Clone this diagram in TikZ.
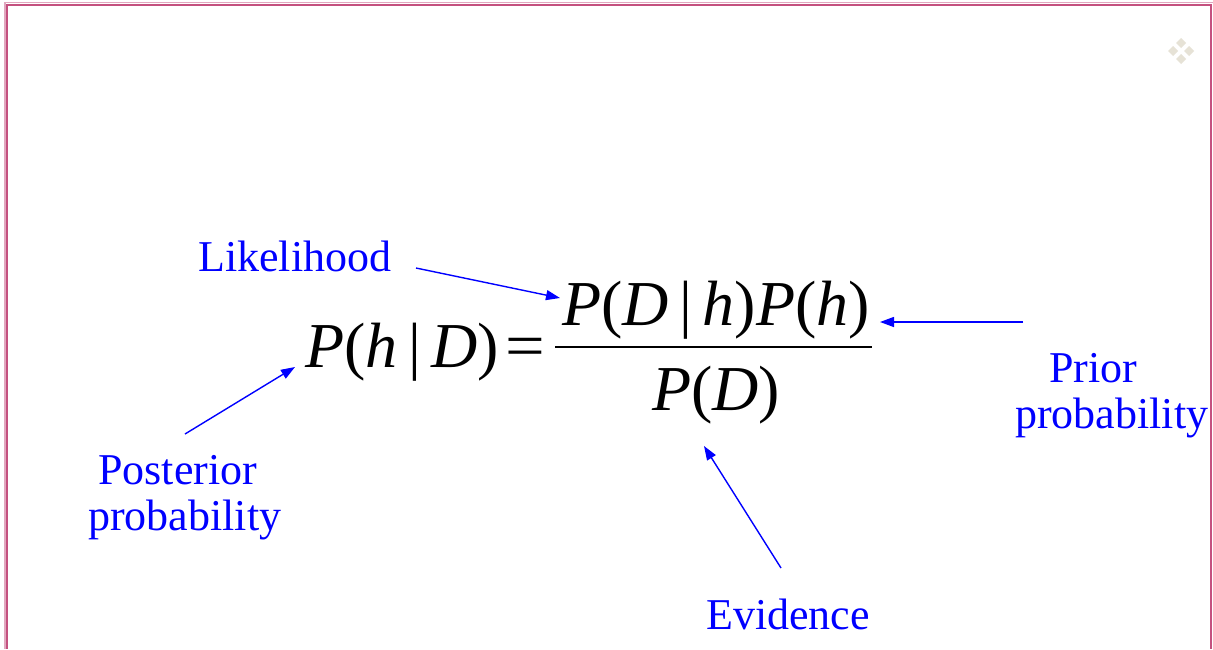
\documentclass[tikz,border=0pt]{standalone}
\usepackage{fontspec}
\setmainfont{Liberation Serif}
\usetikzlibrary{arrows.meta}
\definecolor{framec}{HTML}{C4517F}
\definecolor{labelblue}{HTML}{0000FF}
\definecolor{bulletc}{HTML}{E6E2D6}
\tikzset{
  lbl/.style={inner sep=0pt, anchor=base west, text=labelblue, font=\fontsize{44}{50}\selectfont},
  eqn/.style={inner sep=0pt, anchor=base west, font=\fontsize{64}{70}\selectfont},
  ptr/.style={draw=labelblue, line width=1.4pt, -{Triangle[length=14pt,width=10pt]}},
  gem/.style={fill=bulletc, draw=none}
}
\begin{document}
\begin{tikzpicture}[x=1pt,y=-1pt]
\useasboundingbox (0,0) rectangle (1213,649);
\fill[white] (0,0) rectangle (1213,649);
% frame
\draw[framec!50, line width=1.2pt] (5,649) -- (5,2.5) -- (1213,2.5);
\draw[framec, line width=2.2pt] (7,649) -- (7,5) -- (1211,5) -- (1211,649);
% bullet
\foreach \cx/\cy in {1181/43,1173/51,1189/51,1181/59}
  \fill[gem] (\cx,\cy-5) -- (\cx+5,\cy) -- (\cx,\cy+5) -- (\cx-5,\cy) -- cycle;
% equation
\node[eqn] (lhs) at (305,367) {\textit{P}(\textit{h}\,|\,\textit{D})};
\node[eqn, xscale=1.1] (eq) at (505,367) {=};
\node[eqn] (num) at (562,325) {\textit{P}(\textit{D}\,|\,\textit{h})\textit{P}(\textit{h})};
\node[eqn] (den) at (652,410) {\textit{P}(\textit{D})};
\draw[line width=2pt] (555,347) -- (872,347);
% labels
\node[lbl] (lik) at (198,271) {Likelihood};
\node[lbl] (pri1) at (1049,382) {Prior};
\node[lbl] (pri2) at (1015,428) {probability};
\node[lbl] (pos1) at (98,484) {Posterior};
\node[lbl] (pos2) at (88,530) {probability};
\node[lbl] (evi) at (706,629) {Evidence};
% pointer ends
\coordinate (likS) at (416,268);
\coordinate (likE) at (560,298);
\coordinate (priS) at (1023,322);
\coordinate (priE) at (880,322);
\coordinate (posS) at (185,434);
\coordinate (posE) at (295,367);
\coordinate (eviS) at (781,568);
\coordinate (eviE) at (704,446);
\draw[ptr] (likS) -- (likE);
\draw[ptr] (priS) -- (priE);
\draw[ptr] (posS) -- (posE);
\draw[ptr] (eviS) -- (eviE);
\end{tikzpicture}
\end{document}
